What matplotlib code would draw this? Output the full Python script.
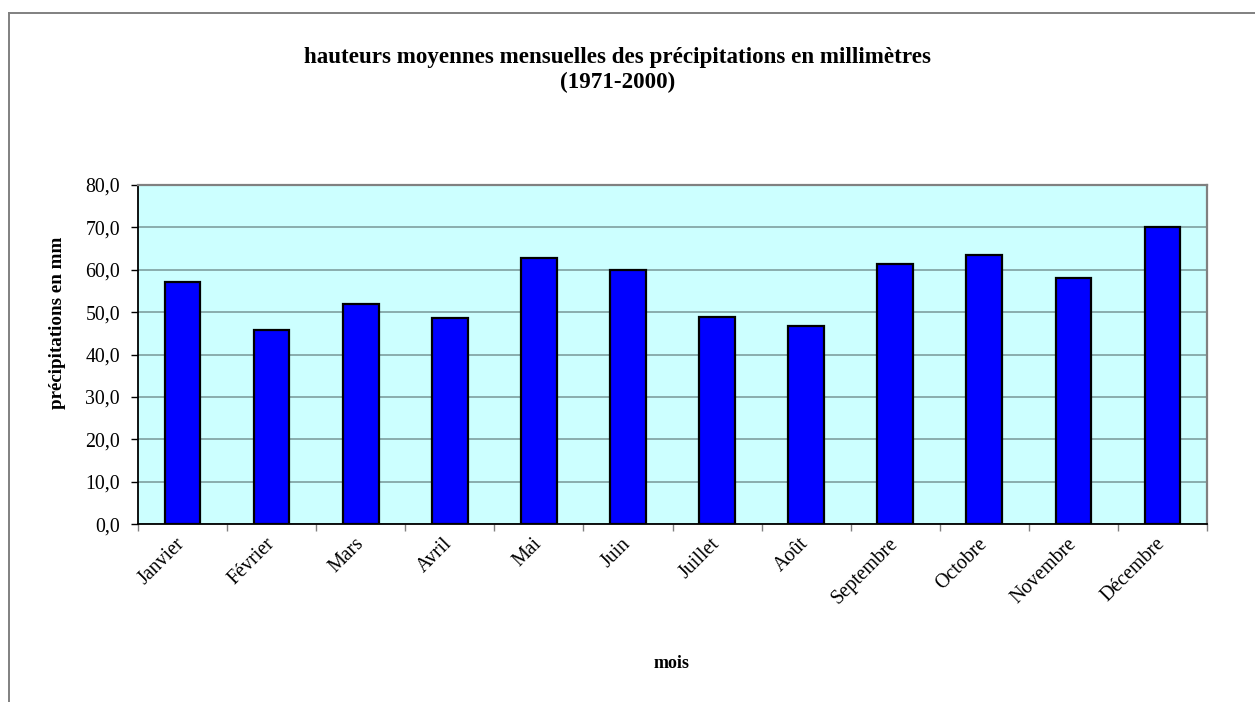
import matplotlib
matplotlib.use("Agg")
import matplotlib.pyplot as plt
from matplotlib.lines import Line2D
from matplotlib.ticker import FixedLocator, FuncFormatter
import numpy as np

plt.rcParams['font.family'] = ['Liberation Serif', 'DejaVu Serif']

months = ["Janvier", "Février", "Mars", "Avril", "Mai", "Juin",
          "Juillet", "Août", "Septembre", "Octobre", "Novembre", "Décembre"]
rainfall_mm = [57.1, 45.7, 51.9, 48.5, 62.8, 60.0,
               48.8, 46.6, 61.3, 63.4, 58.1, 70.1]
y_ticks = [0, 10, 20, 30, 40, 50, 60, 70, 80]

title_line1 = "hauteurs moyennes mensuelles des précipitations en millimètres"
title_line2 = "(1971-2000)"
x_title = "mois"
y_title = "précipitations en mm"

W, H = 1255, 702
fig = plt.figure(figsize=(W / 100, H / 100), dpi=100)
fig.patch.set_facecolor("white")

# chart-area frame (top and left edges visible)
frame_col = "#808080"
fig.add_artist(Line2D([9 / W, 1.0], [1 - 13 / H, 1 - 13 / H], transform=fig.transFigure,
                      color=frame_col, lw=1.4))
fig.add_artist(Line2D([9 / W, 9 / W], [1 - 13 / H, 0.0], transform=fig.transFigure,
                      color=frame_col, lw=1.4))

left, right = 138 / W, 1207 / W
bottom, top = 1 - 524.3 / H, 1 - 184.7 / H
ax = fig.add_axes([left, bottom, right - left, top - bottom])
ax.set_facecolor("#CCFFFF")

x = np.arange(len(months))
ax.bar(x, rainfall_mm, width=0.40, color="#0000FF", edgecolor="black",
       linewidth=1.6, zorder=3)

ax.set_xlim(-0.5, len(months) - 0.5)
ax.set_ylim(0, 80)

ax.yaxis.set_major_locator(FixedLocator(y_ticks))
ax.yaxis.set_major_formatter(FuncFormatter(lambda v, p: f"{v:.1f}".replace(".", ",")))
ax.grid(axis="y", color="#7F9F9F", lw=1.2, zorder=1)
ax.set_axisbelow(True)

# x ticks sit between categories, labels at category centres
ax.set_xticks(np.arange(-0.5, len(months) + 0.5, 1.0))
ax.set_xticklabels([])
ax.set_xticks(x, minor=True)
ax.tick_params(axis="x", which="minor", length=0)
ax.set_xticklabels(months, minor=True, rotation=45, ha="right", va="center",
                   rotation_mode="anchor", fontsize=14.3)
for lbl in ax.get_xticklabels(minor=True):
    lbl.set_y(-0.035)

ax.tick_params(axis="x", which="major", direction="out", length=5, width=1, color="#808080")
ax.tick_params(axis="y", direction="out", length=5, width=1, color="black",
               labelsize=14.3, pad=8)

for side in ("left", "bottom"):
    ax.spines[side].set_color("black")
    ax.spines[side].set_linewidth(1.3)
for side in ("top", "right"):
    ax.spines[side].set_color("#808080")
    ax.spines[side].set_linewidth(1.6)

fig.text(618 / W, 1 - 58 / H, title_line1, ha="center", va="center", fontsize=16.6,
         fontweight="bold")
fig.text(618 / W, 1 - 82 / H, title_line2, ha="center", va="center", fontsize=16.6,
         fontweight="bold")
fig.text(672 / W, 1 - 664 / H, x_title, ha="center", va="center", fontsize=13,
         fontweight="bold")
fig.text(58 / W, 1 - 323 / H, y_title, ha="center", va="center", fontsize=13.7,
         fontweight="bold", rotation=90)

fig.savefig("out.png", dpi=100, facecolor="white")
